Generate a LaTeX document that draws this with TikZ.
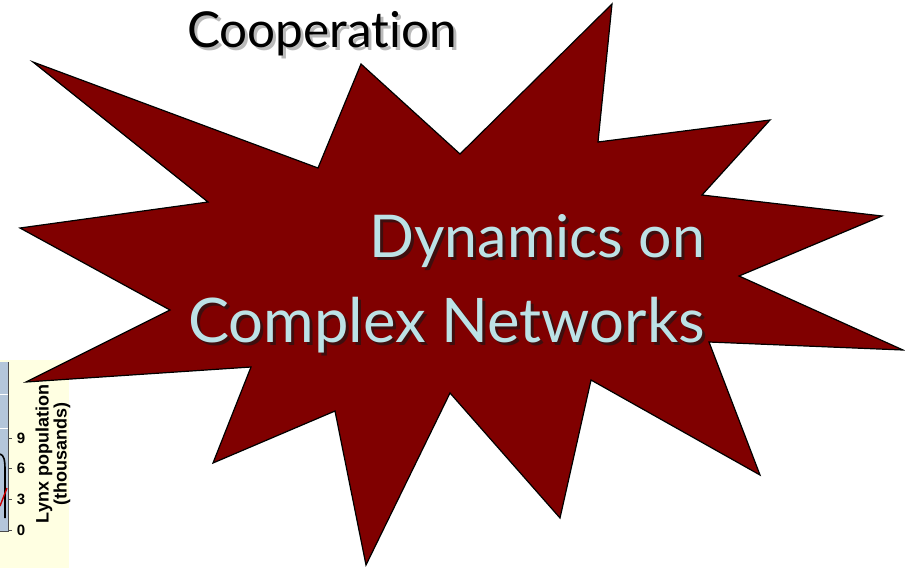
\documentclass[tikz,border=0pt]{standalone}
\usepackage{fontspec}
\setmainfont[Ligatures={NoCommon}]{Lato}
\newfontfamily\chartfont{Liberation Sans}
\definecolor{starred}{RGB}{128,0,0}
\definecolor{textblue}{RGB}{188,226,230}
\definecolor{shadowdark}{RGB}{40,20,20}
\definecolor{chartyellow}{RGB}{255,255,226}
\definecolor{chartblue}{RGB}{180,198,218}
\tikzset{
  burst/.style={draw=black, line width=1.2pt, fill=starred, line join=miter},
  bigtext/.style={inner sep=0pt, anchor=base east, text=textblue},
  bigshadow/.style={bigtext, text=shadowdark, opacity=0.75},
  coop/.style={inner sep=0pt, anchor=base west, text=black, font=\fontsize{49.5}{55}\selectfont},
  coopshadow/.style={coop, text=black!45, opacity=0.6},
  axislabel/.style={inner sep=0pt, rotate=90, font=\chartfont\bfseries\fontsize{18}{20}\selectfont},
  ticklabel/.style={inner sep=0pt, font=\chartfont\bfseries\fontsize{15}{16}\selectfont}
}
\begin{document}
\begin{tikzpicture}[x=1pt,y=-1pt]
\useasboundingbox (0,0) rectangle (905,568);
% chart fragment
\fill[chartyellow] (0,360) rectangle (69,568);
\fill[chartblue] (0,362) rectangle (8,531);
\draw[white, line width=0.8pt] (0,394) -- (8,394) (0,428) -- (8,428);
\draw[black!70, line width=0.6pt] (8,362) -- (8,531) -- (0,531);
\foreach \yy/\lab in {438/9,468/6,499/3,530/0}{
  \draw[black!70, line width=0.6pt] (8,\yy) -- (12,\yy);
  \node[ticklabel] (t\lab) at (21,\yy) {\lab};
}
\draw[black, line width=1.6pt] (0,454) .. controls (4,455) and (5,460) .. (5,470) -- (5,518);
\draw[red!80!black, line width=1.4pt] (0,506) -- (7,488);
\node[axislabel] (lynx) at (44,454) {Lynx population};
\node[axislabel] (thou) at (62,454) {(thousands)};
% star burst
\draw[burst] (33,62) -- (208,202) -- (20,228) -- (170,310) -- (26,382) -- (251,367)
  -- (213,463) -- (335,411) -- (366,565) -- (450,393) -- (560,518) -- (591,380)
  -- (760,475) -- (709,342) -- (903,350) -- (739,276) -- (882,216) -- (702,195)
  -- (770,120) -- (598,142) -- (612,4) -- (460,154) -- (361,64) -- (318,168) -- cycle;
% texts
\node[coopshadow] (coops) at (190,50) {Cooperation};
\node[coop] (coopt) at (187,47) {Cooperation};
\node[bigshadow, font=\fontsize{59}{66}\selectfont] (dyn1s) at (708,260) {Dynamics on};
\node[bigtext, font=\fontsize{59}{66}\selectfont] (dyn1) at (705,257) {Dynamics on};
\node[bigshadow, font=\fontsize{61.5}{68}\selectfont] (dyn2s) at (708,345) {Complex Networks};
\node[bigtext, font=\fontsize{61.5}{68}\selectfont] (dyn2) at (705,342) {Complex Networks};
\end{tikzpicture}
\end{document}
